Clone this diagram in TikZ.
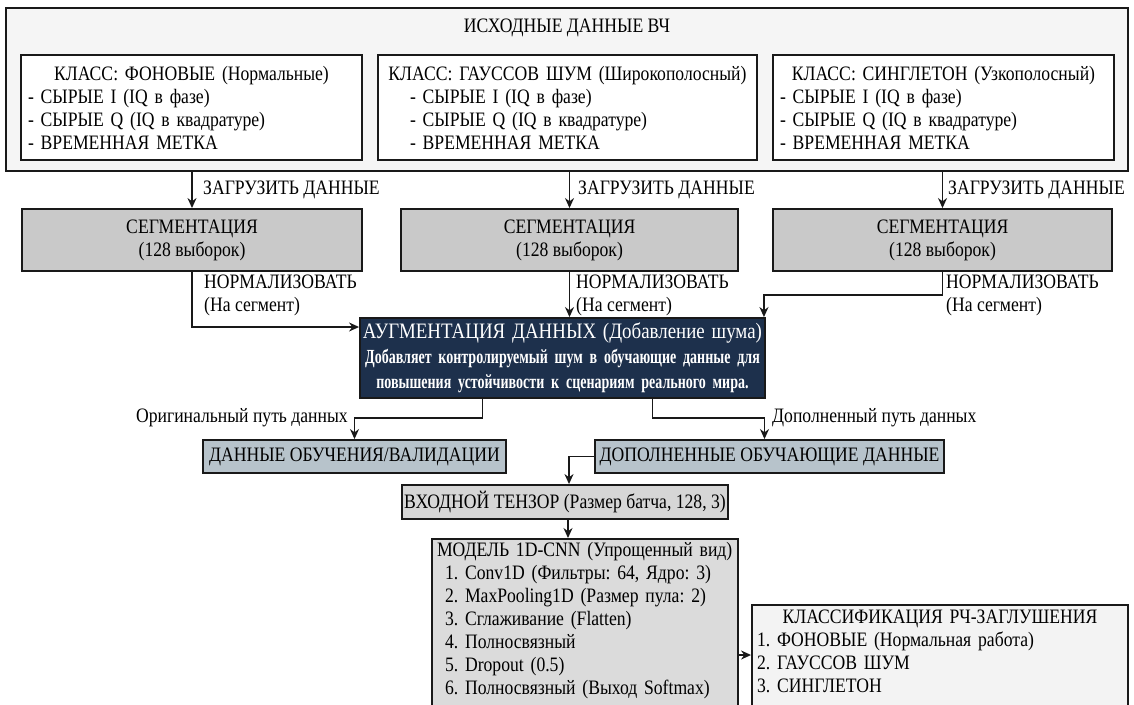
\documentclass[tikz,border=0pt]{standalone}
\usepackage{fontspec}
\setmainfont{Liberation Serif}[FakeStretch=0.86]
\newfontfamily\narrowfont{Liberation Serif}[FakeStretch=0.7]
\usetikzlibrary{arrows.meta}
\frenchspacing

\definecolor{navybox}{HTML}{1D304C}
\definecolor{segfill}{HTML}{C9C9C9}
\definecolor{datafill}{HTML}{B7C3CB}
\definecolor{tensorfill}{HTML}{D6D6D6}
\definecolor{modelfill}{HTML}{DBDBDB}
\definecolor{outfill}{HTML}{F3F3F3}
\definecolor{srcfill}{HTML}{F5F5F5}

\begin{document}
\begin{tikzpicture}[
    x=1pt, y=-1pt,
    font=\fontsize{20.5}{23}\selectfont,
    box/.style={rectangle, draw=black!90, line width=1.9pt},
    classbox/.style={box, fill=white, inner sep=7pt, minimum height=105pt, align=left},
    segbox/.style={box, fill=segfill, minimum height=62pt, align=center},
    databox/.style={box, fill=datafill, minimum height=33pt, inner sep=2pt},
    arrow/.style={-{Stealth[length=10pt,width=9pt]}, line width=1.4pt, black!90},
    label/.style={inner sep=2pt}
]
\clip (0,0) rectangle (1134,704);

% Source data (top)
\node[box, line width=1.5pt, fill=srcfill, minimum width=1122pt, minimum height=163pt] (src) at (567,89.5) {};
\node[label] (srctitle) at (567,28) {ИСХОДНЫЕ ДАННЫЕ ВЧ};

\node[classbox, text width=327pt] (cls1) at (191.5,107.5) {\makebox[\linewidth]{КЛАСС: ФОНОВЫЕ (Нормальные)}\\- СЫРЫЕ I (IQ в фазе)\\- СЫРЫЕ Q (IQ в квадратуре)\\- ВРЕМЕННАЯ МЕТКА};
\node[classbox, text width=365pt] (cls2) at (567.5,107.5) {\makebox[\linewidth]{КЛАСС: ГАУССОВ ШУМ (Широкополосный)}\\\hspace*{25pt}- СЫРЫЕ I (IQ в фазе)\\\hspace*{25pt}- СЫРЫЕ Q (IQ в квадратуре)\\\hspace*{25pt}- ВРЕМЕННАЯ МЕТКА};
\node[classbox, text width=327pt] (cls3) at (943.5,107.5) {\makebox[\linewidth]{КЛАСС: СИНГЛЕТОН (Узкополосный)}\\- СЫРЫЕ I (IQ в фазе)\\- СЫРЫЕ Q (IQ в квадратуре)\\- ВРЕМЕННАЯ МЕТКА};

% Segmentation
\node[segbox, minimum width=340pt] (seg1) at (192,240) {СЕГМЕНТАЦИЯ\\(128 выборок)};
\node[segbox, minimum width=337pt] (seg2) at (569.5,240) {СЕГМЕНТАЦИЯ\\(128 выборок)};
\node[segbox, minimum width=339pt] (seg3) at (942.5,240) {СЕГМЕНТАЦИЯ\\(128 выборок)};

\draw[arrow] (seg1.north |- src.south) -- (seg1.north);
\draw[arrow] (seg2.north |- src.south) -- (seg2.north);
\draw[arrow] (seg3.north |- src.south) -- (seg3.north);

\node[label, anchor=west] (load1) at (201,190) {ЗАГРУЗИТЬ ДАННЫЕ};
\node[label, anchor=west] (load2) at (576,190) {ЗАГРУЗИТЬ ДАННЫЕ};
\node[label, anchor=west] (load3) at (946,190) {ЗАГРУЗИТЬ ДАННЫЕ};

% Augmentation
\node[box, fill=navybox, text=white, text width=401pt, minimum height=80pt, align=center, inner sep=2pt] (aug) at (562.5,358)
    {{\fontsize{22}{24}\selectfont АУГМЕНТАЦИЯ ДАННЫХ (Добавление шума)\par}
     {\narrowfont\bfseries\fontsize{20}{25}\selectfont Добавляет контролируемый шум в обучающие данные для\\повышения устойчивости к сценариям реального мира.\par}};

\draw[arrow] (seg1.south) |- ([yshift=31pt]aug.west);
\draw[arrow] (seg2.south) -- (seg2.south |- aug.north);
\draw[arrow] (seg3.south) -- ++(0,23) -| ([xshift=-2pt]aug.north east);

\node[label, anchor=west, align=left] (norm1) at (202,295) {НОРМАЛИЗОВАТЬ\\(На сегмент)};
\node[label, anchor=west, align=left] (norm2) at (574,295) {НОРМАЛИЗОВАТЬ\\(На сегмент)};
\node[label, anchor=west, align=left] (norm3) at (944,295) {НОРМАЛИЗОВАТЬ\\(На сегмент)};

% Data paths
\node[databox, minimum width=303pt] (train) at (354.5,456.5) {ДАННЫЕ ОБУЧЕНИЯ/ВАЛИДАЦИИ};
\node[databox, minimum width=349pt] (augd) at (769.5,456.5) {ДОПОЛНЕННЫЕ ОБУЧАЮЩИЕ ДАННЫЕ};

\draw[arrow] ([xshift=-80pt]aug.south) -- ++(0,19) -| (train.north);
\draw[arrow] ([xshift=90pt]aug.south) -- ++(0,19) -| ([xshift=-5pt]augd.north);

\node[label, anchor=east] (origpath) at (350,418) {Оригинальный путь данных};
\node[label, anchor=west] (augpath) at (770,418) {Дополненный путь данных};

% Model
\node[box, fill=tensorfill, minimum width=326pt, minimum height=34pt, inner sep=2pt] (inp) at (565,502) {ВХОДНОЙ ТЕНЗОР (Размер батча, 128, 3)};
\draw[arrow] (augd.west) -| ([xshift=4pt]inp.north);

\node[box, fill=modelfill, text width=296pt, inner xsep=5pt, inner ysep=3pt, anchor=north, align=left] (model) at (585,538)
    {МОДЕЛЬ 1D-CNN (Упрощенный вид)\\
     \hspace*{8pt}1. Conv1D (Фильтры: 64, Ядро: 3)\\
     \hspace*{8pt}2. MaxPooling1D (Размер пула: 2)\\
     \hspace*{8pt}3. Сглаживание (Flatten)\\
     \hspace*{8pt}4. Полносвязный\\
     \hspace*{8pt}5. Dropout (0.5)\\
     \hspace*{8pt}6. Полносвязный (Выход Softmax)\\
     \mbox{}};
\draw[arrow] ([xshift=3pt]inp.south) -- ([xshift=3pt]inp.south |- model.north);

\node[box, fill=outfill, text width=366pt, inner xsep=5pt, inner ysep=5pt, anchor=north, align=left] (out) at (940,604)
    {\makebox[\linewidth]{КЛАССИФИКАЦИЯ РЧ-ЗАГЛУШЕНИЯ}\\
     1. ФОНОВЫЕ (Нормальная работа)\\
     2. ГАУССОВ ШУМ\\
     3. СИНГЛЕТОН\\
     \mbox{}};
\draw[arrow] ([yshift=-117pt]model.north east) -- ([yshift=-117pt]model.north east -| out.west);

\end{tikzpicture}
\end{document}
